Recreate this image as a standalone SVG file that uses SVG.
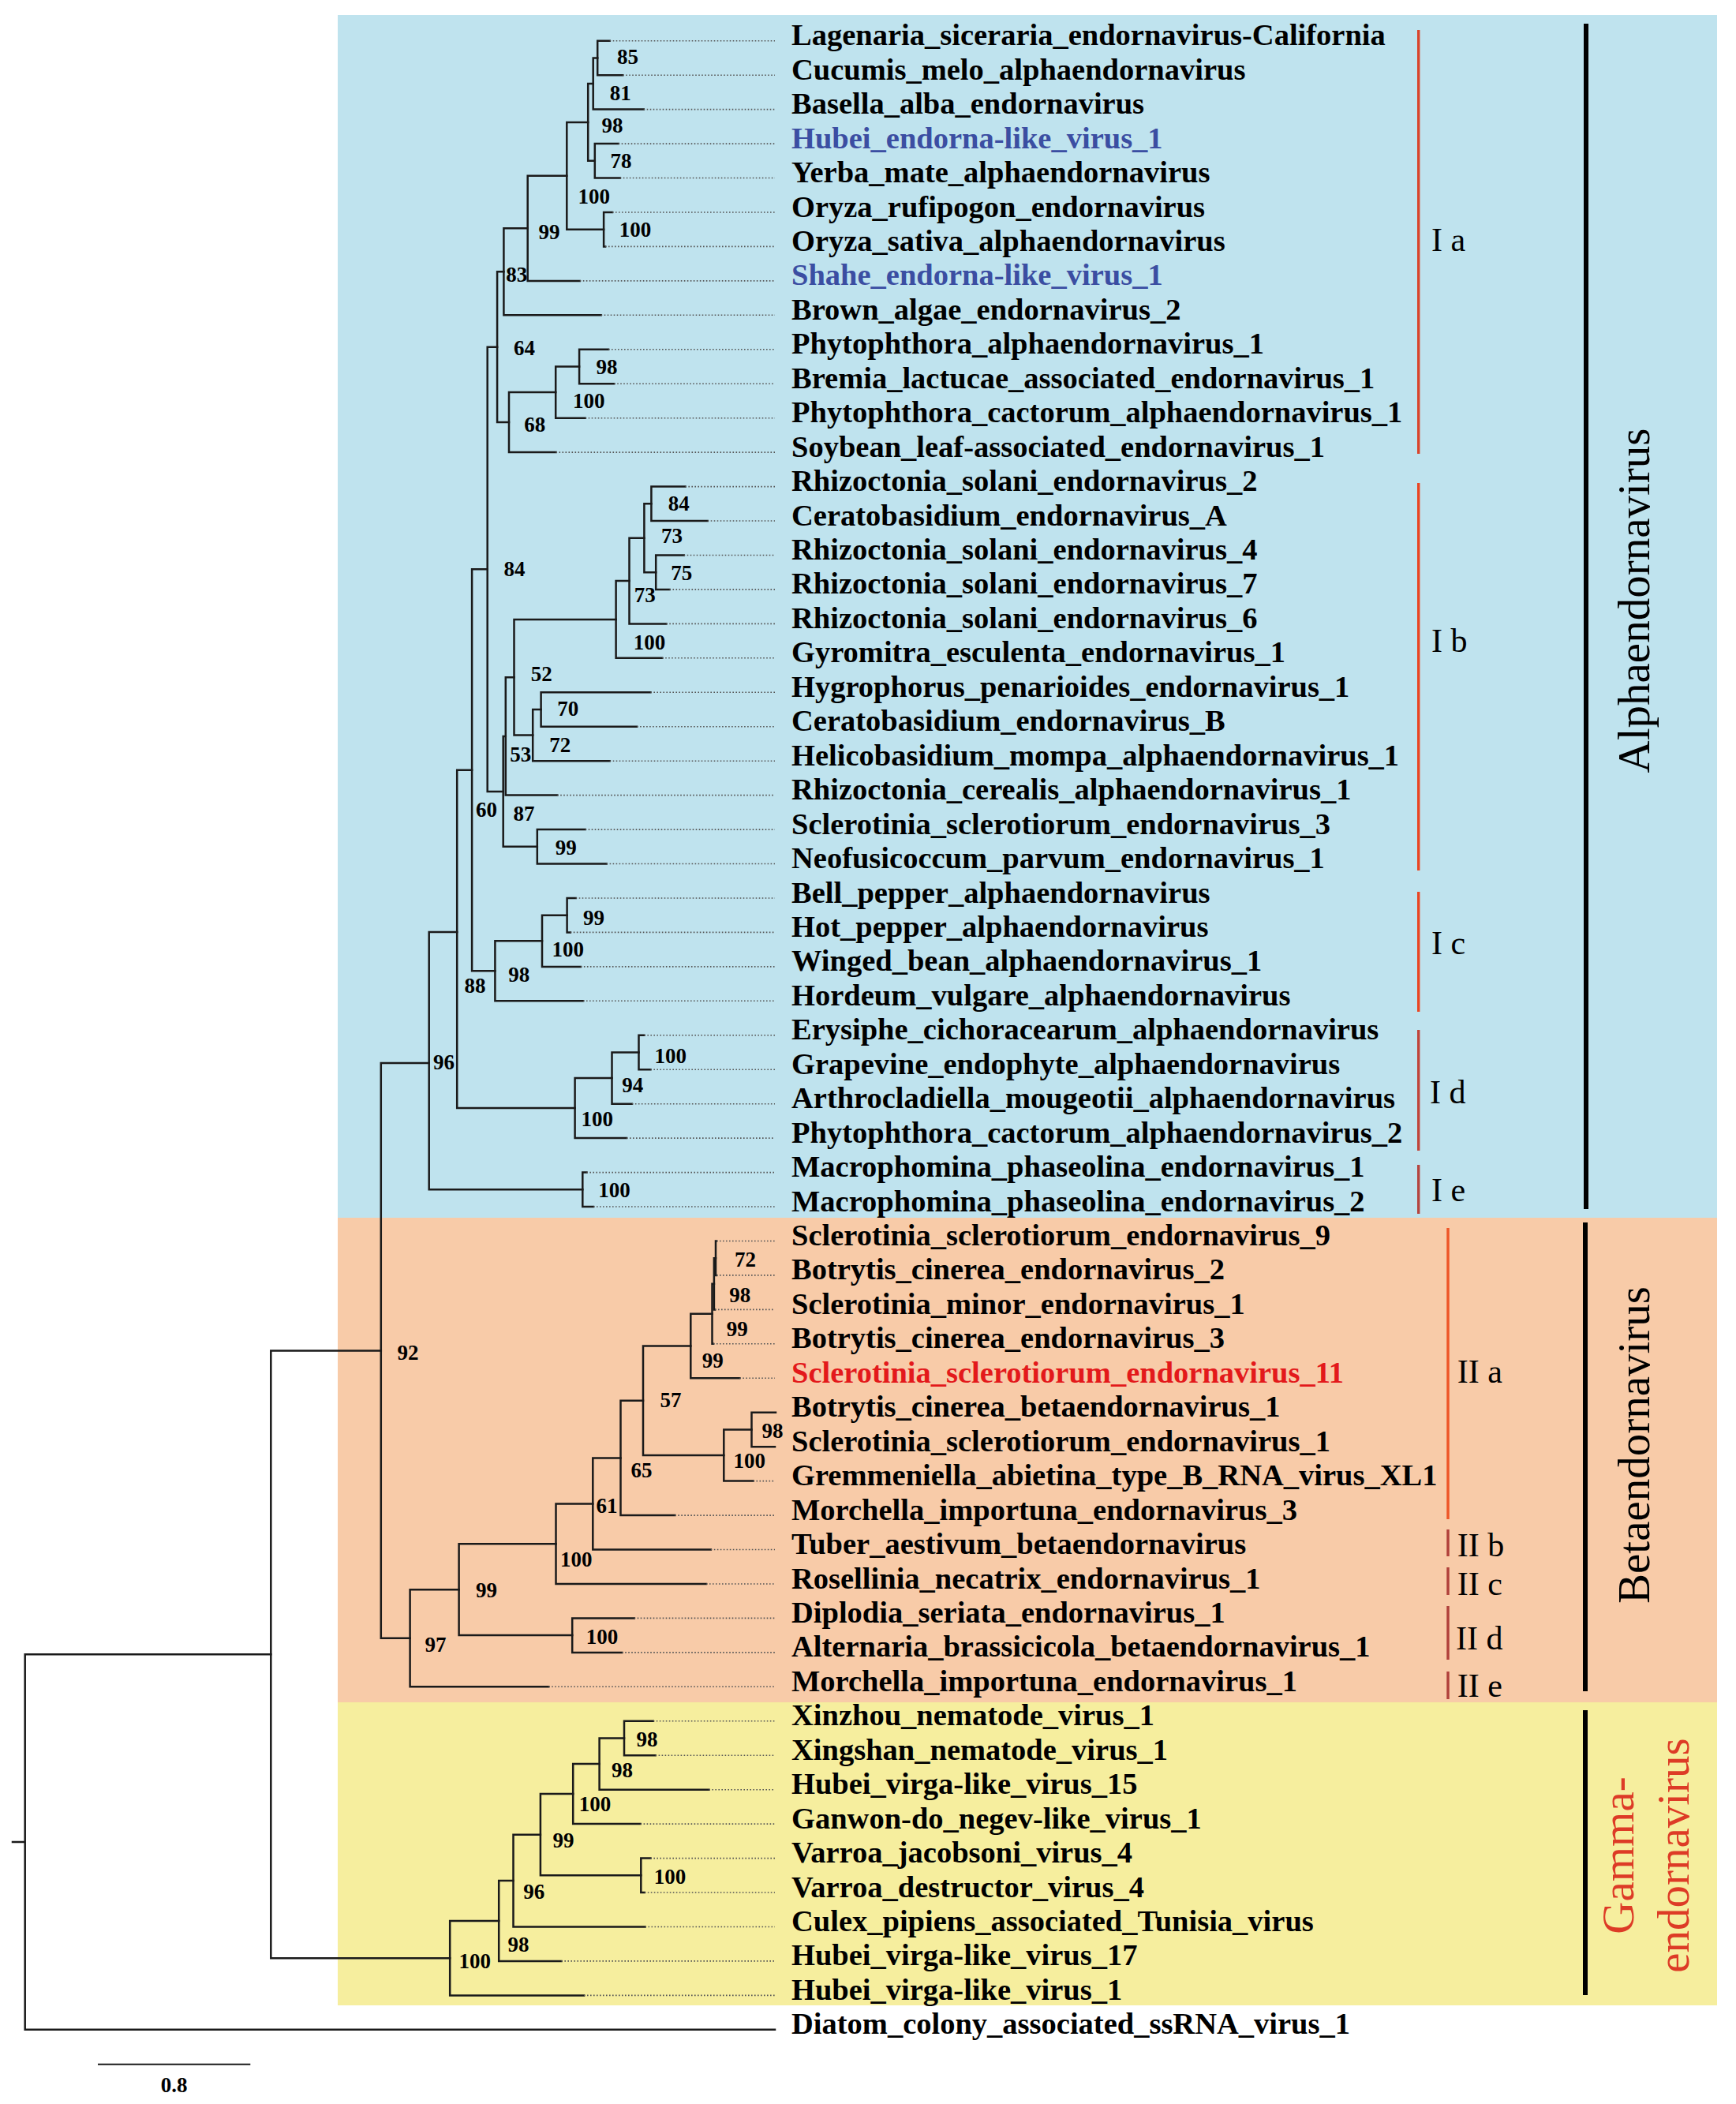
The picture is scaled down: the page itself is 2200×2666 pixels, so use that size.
<svg xmlns="http://www.w3.org/2000/svg" width="2200" height="2666" viewBox="0 0 2200 2666">
<style>
.br{fill:none;stroke:#1a1a1a;stroke-width:2.5;stroke-linecap:square}
.dot{fill:none;stroke:#555;stroke-width:1.6;stroke-dasharray:1.6 2.4}
.lf{font-family:"Liberation Serif","Times New Roman",serif;font-weight:bold;font-size:38.5px;fill:#000}
.bs{font-family:"Liberation Serif","Times New Roman",serif;font-weight:bold;font-size:27px;fill:#000}
.cl{font-family:"Liberation Serif","Times New Roman",serif;font-size:42px;fill:#000}
.big{font-family:"Liberation Serif","Times New Roman",serif;font-size:57px;text-anchor:middle}
.blue{fill:#3B4EA2}
.red{fill:#E3191B}
.cbar{stroke-width:3.4}
.kbar{stroke:#000;stroke-width:6}
</style>
<rect x="428" y="19" width="1748" height="1524" fill="#BFE3EE"/>
<rect x="428" y="1543" width="1748" height="614" fill="#F8CBA8"/>
<rect x="428" y="2157" width="1748" height="384" fill="#F6EE9E"/>

<g id="connectors">
<path class="br" d="M772.7,51.7 H757.2 V95.2 H789.2"/>
<path class="br" d="M757.2,73.4 H751.7 V138.6 H815.7"/>
<path class="br" d="M783.7,182.1 H753.8 V225.5 H785.8"/>
<path class="br" d="M751.7,106 H745.2 V203.8 H753.8"/>
<path class="br" d="M776,269 H765.1 V312.4 H767"/>
<path class="br" d="M745.2,154.9 H718.3 V290.7 H765.1"/>
<path class="br" d="M718.3,222.8 H668.7 V355.9 H734.8"/>
<path class="br" d="M668.7,289.3 H638.4 V399.3 H761.7"/>
<path class="br" d="M771,442.8 H734.1 V486.2 H778.2"/>
<path class="br" d="M734.1,464.5 H704.2 V529.7 H741.7"/>
<path class="br" d="M704.2,497.1 H645 V573.1 H704.5"/>
<path class="br" d="M638.4,344.3 H630.1 V535.1 H645"/>
<path class="br" d="M868.4,616.6 H825.4 V660 H896.7"/>
<path class="br" d="M866.7,703.5 H831.2 V746.9 H848.5"/>
<path class="br" d="M825.4,638.3 H816.4 V725.2 H831.2"/>
<path class="br" d="M816.4,681.8 H797.5 V790.4 H844.3"/>
<path class="br" d="M797.5,736.1 H780.6 V833.8 H839.2"/>
<path class="br" d="M824.4,877.3 H685.6 V920.7 H807.1"/>
<path class="br" d="M685.6,899 H675.2 V964.2 H772.7"/>
<path class="br" d="M780.6,785 H651.5 V931.6 H675.2"/>
<path class="br" d="M651.5,858.3 H640.8 V1007.6 H706.2"/>
<path class="br" d="M741.7,1051.1 H680.8 V1094.5 H768.6"/>
<path class="br" d="M640.8,933 H637.7 V1072.8 H680.8"/>
<path class="br" d="M630.1,439.7 H617.7 V1002.9 H637.7"/>
<path class="br" d="M729.7,1138 H718.6 V1181.4 H722.8"/>
<path class="br" d="M718.6,1159.7 H687 V1224.9 H735.9"/>
<path class="br" d="M687,1192.3 H627.4 V1268.3 H739"/>
<path class="br" d="M617.7,721.3 H598.1 V1230.3 H627.4"/>
<path class="br" d="M816.4,1311.8 H809.5 V1355.2 H824.4"/>
<path class="br" d="M809.5,1333.5 H775.5 V1398.7 H800.9"/>
<path class="br" d="M775.5,1366.1 H728.6 V1442.1 H794"/>
<path class="br" d="M598.1,975.8 H579.2 V1404.1 H728.6"/>
<path class="br" d="M743.4,1485.6 H738.3 V1529 H752"/>
<path class="br" d="M579.2,1181 H543.7 V1507.3 H738.3"/>
<path class="br" d="M908,1572.5 H907 V1615.9 H908"/>
<path class="br" d="M907,1594.2 H904.9 V1659.4 H906"/>
<path class="br" d="M904.9,1626.8 H902.5 V1702.8 H904"/>
<path class="br" d="M902.5,1664.8 H875.3 V1746.3 H937.3"/>
<path class="br" d="M983,1789.7 H952.5 V1833.2 H982"/>
<path class="br" d="M952.5,1811.5 H917.3 V1876.6 H954.5"/>
<path class="br" d="M875.3,1705.5 H815 V1844 H917.3"/>
<path class="br" d="M815,1774.8 H786.5 V1920.1 H855.3"/>
<path class="br" d="M786.5,1847.4 H751.3 V1963.5 H900.8"/>
<path class="br" d="M751.3,1905.5 H704.5 V2007 H895"/>
<path class="br" d="M803.7,2050.4 H725.2 V2093.9 H788.2"/>
<path class="br" d="M704.5,1956.2 H581.6 V2072.1 H725.2"/>
<path class="br" d="M581.6,2014.2 H519.6 V2137.3 H695.2"/>
<path class="br" d="M543.7,1347 H482.8 V2075.8 H519.6"/>
<path class="br" d="M827.8,2180.8 H791 V2224.2 H830.6"/>
<path class="br" d="M791,2202.5 H759.6 V2267.7 H898.4"/>
<path class="br" d="M759.6,2235.1 H726.2 V2311.1 H811.6"/>
<path class="br" d="M824.4,2354.6 H812.3 V2398 H816.8"/>
<path class="br" d="M726.2,2273.1 H684.9 V2376.3 H812.3"/>
<path class="br" d="M684.9,2324.7 H650.5 V2441.5 H817.5"/>
<path class="br" d="M650.5,2383.1 H632.2 V2484.9 H711.4"/>
<path class="br" d="M632.2,2434 H570.2 V2528.4 H740"/>
<path class="br" d="M482.8,1711.4 H343.3 V2481.2 H570.2"/>
<path class="br" d="M343.3,2096.3 H31.7 V2571.8 H982 M16,2334 H31.7"/>
<path class="dot" d="M772.7,51.7H982M789.2,95.2H982M815.7,138.6H982M783.7,182.1H982M785.8,225.5H982M776,269H982M767,312.4H982M734.8,355.9H982M761.7,399.3H982M771,442.8H982M778.2,486.2H982M741.7,529.7H982M704.5,573.1H982M868.4,616.6H982M896.7,660H982M866.7,703.5H982M848.5,746.9H982M844.3,790.4H982M839.2,833.8H982M824.4,877.3H982M807.1,920.7H982M772.7,964.2H982M706.2,1007.6H982M741.7,1051.1H982M768.6,1094.5H982M729.7,1138H982M722.8,1181.4H982M735.9,1224.9H982M739,1268.3H982M816.4,1311.8H982M824.4,1355.2H982M800.9,1398.7H982M794,1442.1H982M743.4,1485.6H982M752,1529H982M908,1572.5H982M908,1615.9H982M906,1659.4H982M904,1702.8H982M937.3,1746.3H982M954.5,1876.6H982M855.3,1920.1H982M900.8,1963.5H982M895,2007H982M803.7,2050.4H982M788.2,2093.9H982M695.2,2137.3H982M827.8,2180.8H982M830.6,2224.2H982M898.4,2267.7H982M811.6,2311.1H982M824.4,2354.6H982M816.8,2398H982M817.5,2441.5H982M711.4,2484.9H982M740,2528.4H982"/>
</g>

<g id="bootstrap">
<g id="n-a1"><text class="bs" x="782" y="81">85</text></g>
<g id="n-a2"><text class="bs" x="772.7" y="126.7">81</text></g>
<g id="n-a4"><text class="bs" x="762.4" y="168">98</text></g>
<g id="n-a3"><text class="bs" x="773.4" y="213">78</text></g>
<g id="n-a6"><text class="bs" x="732.4" y="258">100</text></g>
<g id="n-a5"><text class="bs" x="784.8" y="300">100</text></g>
<g id="n-a7"><text class="bs" x="682.5" y="302.7">99</text></g>
<g id="n-a8"><text class="bs" x="641.2" y="356.7">83</text></g>
<g id="n-a12"><text class="bs" x="651.1" y="450">64</text></g>
<g id="n-a9"><text class="bs" x="755.5" y="474.3">98</text></g>
<g id="n-a10"><text class="bs" x="725.9" y="516.7">100</text></g>
<g id="n-a11"><text class="bs" x="664.2" y="546.7">68</text></g>
<g id="n-b1"><text class="bs" x="846.7" y="646.7">84</text></g>
<g id="n-b3"><text class="bs" x="838.1" y="688.3">73</text></g>
<g id="n-b2"><text class="bs" x="850.2" y="735">75</text></g>
<g id="n-b4"><text class="bs" x="803.7" y="762.7">73</text></g>
<g id="n-b5"><text class="bs" x="802.7" y="823.3">100</text></g>
<g id="n-F"><text class="bs" x="638.4" y="730">84</text></g>
<g id="n-b8"><text class="bs" x="672.8" y="863.3">52</text></g>
<g id="n-b6"><text class="bs" x="706.2" y="906.7">70</text></g>
<g id="n-b7"><text class="bs" x="696.3" y="953.3">72</text></g>
<g id="n-b9"><text class="bs" x="646.3" y="965">53</text></g>
<g id="n-b11"><text class="bs" x="650.5" y="1040">87</text></g>
<g id="n-G"><text class="bs" x="602.9" y="1035">60</text></g>
<g id="n-b10"><text class="bs" x="703.8" y="1082.7">99</text></g>
<g id="n-c1"><text class="bs" x="739" y="1171.7">99</text></g>
<g id="n-c2"><text class="bs" x="699.4" y="1211.7">100</text></g>
<g id="n-c3"><text class="bs" x="644.3" y="1244">98</text></g>
<g id="n-H"><text class="bs" x="588.5" y="1258.3">88</text></g>
<g id="n-d1"><text class="bs" x="829.5" y="1346.7">100</text></g>
<g id="n-I"><text class="bs" x="548.9" y="1355">96</text></g>
<g id="n-d2"><text class="bs" x="788.2" y="1384">94</text></g>
<g id="n-d3"><text class="bs" x="736.5" y="1426.7">100</text></g>
<g id="n-e1"><text class="bs" x="758.2" y="1516.7">100</text></g>
<g id="n-n1"><text class="bs" x="931.1" y="1605">72</text></g>
<g id="n-n2"><text class="bs" x="924.2" y="1650">98</text></g>
<g id="n-n3"><text class="bs" x="920.8" y="1693">99</text></g>
<g id="n-n4"><text class="bs" x="889.8" y="1733.3">99</text></g>
<g id="n-J"><text class="bs" x="503.4" y="1722.7">92</text></g>
<g id="n-n7"><text class="bs" x="836.4" y="1783.3">57</text></g>
<g id="n-n5"><text class="bs" x="965.5" y="1821.7">98</text></g>
<g id="n-n6"><text class="bs" x="929.4" y="1860">100</text></g>
<g id="n-n8"><text class="bs" x="799.6" y="1871.7">65</text></g>
<g id="n-n9"><text class="bs" x="755.5" y="1917.3">61</text></g>
<g id="n-n10"><text class="bs" x="710" y="1985">100</text></g>
<g id="n-n12"><text class="bs" x="602.9" y="2024.3">99</text></g>
<g id="n-n11"><text class="bs" x="742.7" y="2082.7">100</text></g>
<g id="n-n13"><text class="bs" x="538.5" y="2092.7">97</text></g>
<g id="n-g1"><text class="bs" x="806.4" y="2212.7">98</text></g>
<g id="n-g2"><text class="bs" x="775.1" y="2251.7">98</text></g>
<g id="n-g3"><text class="bs" x="733.8" y="2295">100</text></g>
<g id="n-g5"><text class="bs" x="700.4" y="2340.7">99</text></g>
<g id="n-g4"><text class="bs" x="828.8" y="2386.7">100</text></g>
<g id="n-g6"><text class="bs" x="663.2" y="2406">96</text></g>
<g id="n-g7"><text class="bs" x="643.6" y="2472.7">98</text></g>
<g id="n-g8"><text class="bs" x="581.6" y="2494">100</text></g>
</g>

<g id="leaves">
<g id="leaf-00"><text class="lf" x="1003" y="57.2">Lagenaria_siceraria_endornavirus-California</text></g>
<g id="leaf-01"><text class="lf" x="1003" y="100.7">Cucumis_melo_alphaendornavirus</text></g>
<g id="leaf-02"><text class="lf" x="1003" y="144.1">Basella_alba_endornavirus</text></g>
<g id="leaf-03"><text class="lf blue" x="1003" y="187.6">Hubei_endorna-like_virus_1</text></g>
<g id="leaf-04"><text class="lf" x="1003" y="231">Yerba_mate_alphaendornavirus</text></g>
<g id="leaf-05"><text class="lf" x="1003" y="274.5">Oryza_rufipogon_endornavirus</text></g>
<g id="leaf-06"><text class="lf" x="1003" y="317.9">Oryza_sativa_alphaendornavirus</text></g>
<g id="leaf-07"><text class="lf blue" x="1003" y="361.4">Shahe_endorna-like_virus_1</text></g>
<g id="leaf-08"><text class="lf" x="1003" y="404.8">Brown_algae_endornavirus_2</text></g>
<g id="leaf-09"><text class="lf" x="1003" y="448.3">Phytophthora_alphaendornavirus_1</text></g>
<g id="leaf-10"><text class="lf" x="1003" y="491.7">Bremia_lactucae_associated_endornavirus_1</text></g>
<g id="leaf-11"><text class="lf" x="1003" y="535.2">Phytophthora_cactorum_alphaendornavirus_1</text></g>
<g id="leaf-12"><text class="lf" x="1003" y="578.6">Soybean_leaf-associated_endornavirus_1</text></g>
<g id="leaf-13"><text class="lf" x="1003" y="622.1">Rhizoctonia_solani_endornavirus_2</text></g>
<g id="leaf-14"><text class="lf" x="1003" y="665.5">Ceratobasidium_endornavirus_A</text></g>
<g id="leaf-15"><text class="lf" x="1003" y="709">Rhizoctonia_solani_endornavirus_4</text></g>
<g id="leaf-16"><text class="lf" x="1003" y="752.4">Rhizoctonia_solani_endornavirus_7</text></g>
<g id="leaf-17"><text class="lf" x="1003" y="795.9">Rhizoctonia_solani_endornavirus_6</text></g>
<g id="leaf-18"><text class="lf" x="1003" y="839.3">Gyromitra_esculenta_endornavirus_1</text></g>
<g id="leaf-19"><text class="lf" x="1003" y="882.8">Hygrophorus_penarioides_endornavirus_1</text></g>
<g id="leaf-20"><text class="lf" x="1003" y="926.2">Ceratobasidium_endornavirus_B</text></g>
<g id="leaf-21"><text class="lf" x="1003" y="969.7">Helicobasidium_mompa_alphaendornavirus_1</text></g>
<g id="leaf-22"><text class="lf" x="1003" y="1013.1">Rhizoctonia_cerealis_alphaendornavirus_1</text></g>
<g id="leaf-23"><text class="lf" x="1003" y="1056.6">Sclerotinia_sclerotiorum_endornavirus_3</text></g>
<g id="leaf-24"><text class="lf" x="1003" y="1100">Neofusicoccum_parvum_endornavirus_1</text></g>
<g id="leaf-25"><text class="lf" x="1003" y="1143.5">Bell_pepper_alphaendornavirus</text></g>
<g id="leaf-26"><text class="lf" x="1003" y="1186.9">Hot_pepper_alphaendornavirus</text></g>
<g id="leaf-27"><text class="lf" x="1003" y="1230.4">Winged_bean_alphaendornavirus_1</text></g>
<g id="leaf-28"><text class="lf" x="1003" y="1273.8">Hordeum_vulgare_alphaendornavirus</text></g>
<g id="leaf-29"><text class="lf" x="1003" y="1317.3">Erysiphe_cichoracearum_alphaendornavirus</text></g>
<g id="leaf-30"><text class="lf" x="1003" y="1360.7">Grapevine_endophyte_alphaendornavirus</text></g>
<g id="leaf-31"><text class="lf" x="1003" y="1404.2">Arthrocladiella_mougeotii_alphaendornavirus</text></g>
<g id="leaf-32"><text class="lf" x="1003" y="1447.6">Phytophthora_cactorum_alphaendornavirus_2</text></g>
<g id="leaf-33"><text class="lf" x="1003" y="1491.1">Macrophomina_phaseolina_endornavirus_1</text></g>
<g id="leaf-34"><text class="lf" x="1003" y="1534.5">Macrophomina_phaseolina_endornavirus_2</text></g>
<g id="leaf-35"><text class="lf" x="1003" y="1578">Sclerotinia_sclerotiorum_endornavirus_9</text></g>
<g id="leaf-36"><text class="lf" x="1003" y="1621.4">Botrytis_cinerea_endornavirus_2</text></g>
<g id="leaf-37"><text class="lf" x="1003" y="1664.9">Sclerotinia_minor_endornavirus_1</text></g>
<g id="leaf-38"><text class="lf" x="1003" y="1708.3">Botrytis_cinerea_endornavirus_3</text></g>
<g id="leaf-39"><text class="lf red" x="1003" y="1751.8">Sclerotinia_sclerotiorum_endornavirus_11</text></g>
<g id="leaf-40"><text class="lf" x="1003" y="1795.2">Botrytis_cinerea_betaendornavirus_1</text></g>
<g id="leaf-41"><text class="lf" x="1003" y="1838.7">Sclerotinia_sclerotiorum_endornavirus_1</text></g>
<g id="leaf-42"><text class="lf" x="1003" y="1882.1">Gremmeniella_abietina_type_B_RNA_virus_XL1</text></g>
<g id="leaf-43"><text class="lf" x="1003" y="1925.6">Morchella_importuna_endornavirus_3</text></g>
<g id="leaf-44"><text class="lf" x="1003" y="1969">Tuber_aestivum_betaendornavirus</text></g>
<g id="leaf-45"><text class="lf" x="1003" y="2012.5">Rosellinia_necatrix_endornavirus_1</text></g>
<g id="leaf-46"><text class="lf" x="1003" y="2055.9">Diplodia_seriata_endornavirus_1</text></g>
<g id="leaf-47"><text class="lf" x="1003" y="2099.4">Alternaria_brassicicola_betaendornavirus_1</text></g>
<g id="leaf-48"><text class="lf" x="1003" y="2142.8">Morchella_importuna_endornavirus_1</text></g>
<g id="leaf-49"><text class="lf" x="1003" y="2186.3">Xinzhou_nematode_virus_1</text></g>
<g id="leaf-50"><text class="lf" x="1003" y="2229.7">Xingshan_nematode_virus_1</text></g>
<g id="leaf-51"><text class="lf" x="1003" y="2273.2">Hubei_virga-like_virus_15</text></g>
<g id="leaf-52"><text class="lf" x="1003" y="2316.6">Ganwon-do_negev-like_virus_1</text></g>
<g id="leaf-53"><text class="lf" x="1003" y="2360.1">Varroa_jacobsoni_virus_4</text></g>
<g id="leaf-54"><text class="lf" x="1003" y="2403.5">Varroa_destructor_virus_4</text></g>
<g id="leaf-55"><text class="lf" x="1003" y="2447">Culex_pipiens_associated_Tunisia_virus</text></g>
<g id="leaf-56"><text class="lf" x="1003" y="2490.4">Hubei_virga-like_virus_17</text></g>
<g id="leaf-57"><text class="lf" x="1003" y="2533.9">Hubei_virga-like_virus_1</text></g>
<g id="leaf-58"><text class="lf" x="1003" y="2577.3">Diatom_colony_associated_ssRNA_virus_1</text></g>
</g>

<g id="subclades">
<line class="cbar" x1="1797.7" y1="38" x2="1797.7" y2="575" stroke="#D9442B"/>
<line class="cbar" x1="1797.7" y1="612" x2="1797.7" y2="1103" stroke="#EA4522"/>
<line class="cbar" x1="1797.7" y1="1130" x2="1797.7" y2="1282" stroke="#EA4522"/>
<line class="cbar" x1="1797.7" y1="1305" x2="1797.7" y2="1458" stroke="#C0443A"/>
<line class="cbar" x1="1797.7" y1="1476" x2="1797.7" y2="1538" stroke="#B5453F"/>
<line class="cbar" x1="1835" y1="1556" x2="1835" y2="1925" stroke="#EE5527"/>
<line class="cbar" x1="1835" y1="1938" x2="1835" y2="1972" stroke="#B0403A"/>
<line class="cbar" x1="1835" y1="1986" x2="1835" y2="2021" stroke="#B0403A"/>
<line class="cbar" x1="1835" y1="2035" x2="1835" y2="2103" stroke="#B0403A"/>
<line class="cbar" x1="1835" y1="2118" x2="1835" y2="2153" stroke="#B0403A"/>
<text class="cl" x="1814" y="318">I a</text>
<text class="cl" x="1814" y="826">I b</text>
<text class="cl" x="1814" y="1209">I c</text>
<text class="cl" x="1812" y="1398">I d</text>
<text class="cl" x="1814" y="1522">I e</text>
<text class="cl" x="1846.7" y="1752">II a</text>
<text class="cl" x="1846.7" y="1972">II b</text>
<text class="cl" x="1846.7" y="2021">II c</text>
<text class="cl" x="1845" y="2090">II d</text>
<text class="cl" x="1846.7" y="2150">II e</text>
</g>

<g id="genera">
<line class="kbar" x1="2010" y1="30" x2="2010" y2="1532"/>
<line class="kbar" x1="2009" y1="1549" x2="2009" y2="2143"/>
<line class="kbar" x1="2009" y1="2167" x2="2009" y2="2528"/>
<text class="big" transform="translate(2090,761) rotate(-90)" fill="#000">Alphaendornavirus</text>
<text class="big" transform="translate(2090,1831) rotate(-90)" fill="#000">Betaendornavirus</text>
<text class="big" transform="translate(2070,2351) rotate(-90)" fill="#DD3B26">Gamma-</text>
<text class="big" transform="translate(2140,2351) rotate(-90)" fill="#DD3B26">endornavirus</text>
</g>

<g id="scale">
<line x1="124" y1="2615.7" x2="317.3" y2="2615.7" stroke="#1a1a1a" stroke-width="2"/>
<text class="bs" x="220.7" y="2651" font-size="28" text-anchor="middle">0.8</text>
</g>
</svg>
